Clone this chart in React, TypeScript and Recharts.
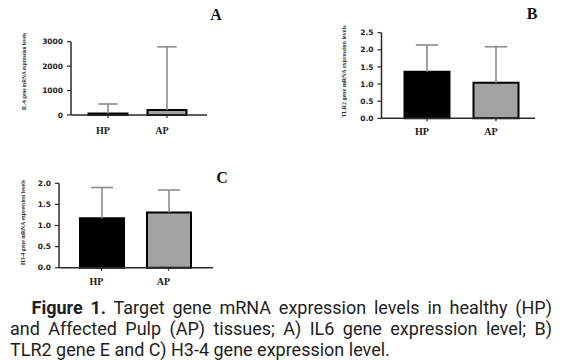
import React from 'react';
import { BarChart, Bar, XAxis, YAxis, Cell } from 'recharts';

// ---- data ----
const categories = ['HP', 'AP'];
const barColors = ['#000000', '#a3a3a3'];

const il6Mean = [60, 200];
const il6Upper = [450, 2790];
const il6Ticks = [0, 1000, 2000, 3000];

const tlr2Mean = [1.36, 1.04];
const tlr2Upper = [2.14, 2.09];
const tlr2Ticks = [0, 0.5, 1.0, 1.5, 2.0, 2.5];

const h34Mean = [1.17, 1.31];
const h34Upper = [1.9, 1.84];
const h34Ticks = [0, 0.5, 1.0, 1.5, 2.0];

const buildData = (mean: number[], upper: number[]) =>
  categories.map((c, i) => ({ cat: c, mean: mean[i], err: upper[i] - mean[i] }));

const il6Data = buildData(il6Mean, il6Upper);
const tlr2Data = buildData(tlr2Mean, tlr2Upper);
const h34Data = buildData(h34Mean, h34Upper);

const ERR_COLOR = '#8c8c8c';
const AXIS_COLOR = '#2a2a2a';

const ErrShape = (props: any) => {
  const { x, y, width, height } = props;
  if (x == null || y == null || height == null) return null;
  const cx = x + width / 2;
  const capW = width * 0.5;
  return (
    <g>
      <line x1={cx} x2={cx} y1={y + height} y2={y} stroke={ERR_COLOR} strokeWidth={1.6} />
      <line x1={cx - capW / 2} x2={cx + capW / 2} y1={y} y2={y} stroke={ERR_COLOR} strokeWidth={1.6} />
    </g>
  );
};

type PanelProps = {
  data: { cat: string; mean: number; err: number }[];
  ticks: number[];
  fmt: (v: number) => string;
  left: number;
  top: number;
  width: number;
  height: number;
  margin: { top: number; right: number; bottom: number; left: number };
  yWidth: number;
  padL: number;
  padR: number;
  barSize: number;
  xTickMargin: number;
};

const Panel = (p: PanelProps) => (
  <div style={{ position: 'absolute', left: p.left, top: p.top }}>
    <BarChart width={p.width} height={p.height} data={p.data} margin={p.margin}>
      <XAxis
        dataKey="cat"
        type="category"
        height={20}
        padding={{ left: p.padL, right: p.padR }}
        axisLine={{ stroke: AXIS_COLOR, strokeWidth: 1.5 }}
        tickLine={{ stroke: AXIS_COLOR, strokeWidth: 1.2 }}
        tickSize={3}
        tickMargin={p.xTickMargin}
        tick={{ fontFamily: 'Liberation Serif', fontWeight: 'bold', fontSize: 10, fill: '#1a1a1a', dx: -5 }}
        interval={0}
      />
      <YAxis
        type="number"
        width={p.yWidth}
        domain={[p.ticks[0], p.ticks[p.ticks.length - 1]]}
        ticks={p.ticks}
        interval={0}
        tickFormatter={p.fmt}
        axisLine={{ stroke: AXIS_COLOR, strokeWidth: 1.5 }}
        tickLine={{ stroke: AXIS_COLOR, strokeWidth: 1.2 }}
        tickSize={4}
        tickMargin={4}
        tick={{ fontFamily: 'DejaVu Sans', fontWeight: 'bold', fontSize: 7.5, fill: '#222' }}
      />
      <Bar dataKey="mean" stackId="s" barSize={p.barSize} stroke="#000" strokeWidth={2} isAnimationActive={false}>
        {p.data.map((d, i) => (
          <Cell key={d.cat} fill={barColors[i]} />
        ))}
      </Bar>
      <Bar dataKey="err" stackId="s" barSize={p.barSize} shape={ErrShape} isAnimationActive={false} />
    </BarChart>
  </div>
);

const yLabelStyle = {
  fontFamily: 'Liberation Serif',
  fontWeight: 'bold' as const,
  fontSize: 6,
  fill: '#2a2a2a',
};
const titleStyle = {
  fontFamily: 'Liberation Serif',
  fontWeight: 'bold' as const,
  fontSize: 16,
  fill: '#111',
};

export default function App() {
  return (
    <div
      style={{
        position: 'absolute',
        left: 0,
        top: 0,
        width: 563,
        height: 360,
        background: '#fff',
        overflow: 'hidden',
      }}
    >
      <Panel
        data={il6Data}
        ticks={il6Ticks}
        fmt={(v) => String(v)}
        left={0}
        top={0}
        width={280}
        height={150}
        margin={{ top: 41.7, right: 73, bottom: 15, left: 0 }}
        yWidth={71}
        padL={7.5}
        padR={10.5}
        barSize={39}
        xTickMargin={9}
      />
      <Panel
        data={tlr2Data}
        ticks={tlr2Ticks}
        fmt={(v) => v.toFixed(1)}
        left={300}
        top={0}
        width={263}
        height={150}
        margin={{ top: 32.7, right: 28, bottom: 11.7, left: 0 }}
        yWidth={81.5}
        padL={11}
        padR={4.5}
        barSize={45}
        xTickMargin={7}
      />
      <Panel
        data={h34Data}
        ticks={h34Ticks}
        fmt={(v) => v.toFixed(1)}
        left={0}
        top={150}
        width={280}
        height={150}
        margin={{ top: 33.3, right: 67, bottom: 12.3, left: 0 }}
        yWidth={59}
        padL={9}
        padR={11}
        barSize={44}
        xTickMargin={7.5}
      />
      <svg
        width={563}
        height={300}
        style={{ position: 'absolute', left: 0, top: 0, pointerEvents: 'none' }}
      >
        <text x={216} y={20} textAnchor="middle" style={titleStyle}>A</text>
        <text x={532} y={19} textAnchor="middle" style={titleStyle}>B</text>
        <text x={222} y={183} textAnchor="middle" style={titleStyle}>C</text>
        <text
          transform="translate(24,71.5) rotate(-90)"
          textAnchor="middle"
          dominantBaseline="central"
          textLength={77}
          lengthAdjust="spacingAndGlyphs"
          style={yLabelStyle}
        >
          IL-6 gene mRNA expression levels
        </text>
        <text
          transform="translate(344,71.5) rotate(-90)"
          textAnchor="middle"
          dominantBaseline="central"
          textLength={92}
          lengthAdjust="spacingAndGlyphs"
          style={yLabelStyle}
        >
          TLR2 gene mRNA expression levels
        </text>
        <text
          transform="translate(22.5,222.5) rotate(-90)"
          textAnchor="middle"
          dominantBaseline="central"
          textLength={85}
          lengthAdjust="spacingAndGlyphs"
          style={yLabelStyle}
        >
          H3-4 gene mRNA expression levels
        </text>
      </svg>
      <div
        style={{
          position: 'absolute',
          left: 10,
          top: 296.5,
          width: 542,
          fontFamily: 'Roboto',
          fontSize: 18,
          lineHeight: '21.4px',
          color: '#1e1e1e',
        }}
      >
        <div style={{ textAlign: 'justify', textAlignLast: 'justify', textIndent: 21.5, whiteSpace: 'nowrap' as any }}>
          <b>Figure 1.</b> Target gene mRNA expression levels in healthy (HP)
        </div>
        <div style={{ textAlign: 'justify', textAlignLast: 'justify' }}>
          and Affected Pulp (AP) tissues; A) IL6 gene expression level; B)
        </div>
        <div style={{ textAlign: 'left' }}>TLR2 gene E and C) H3-4 gene expression level.</div>
      </div>
    </div>
  );
}
